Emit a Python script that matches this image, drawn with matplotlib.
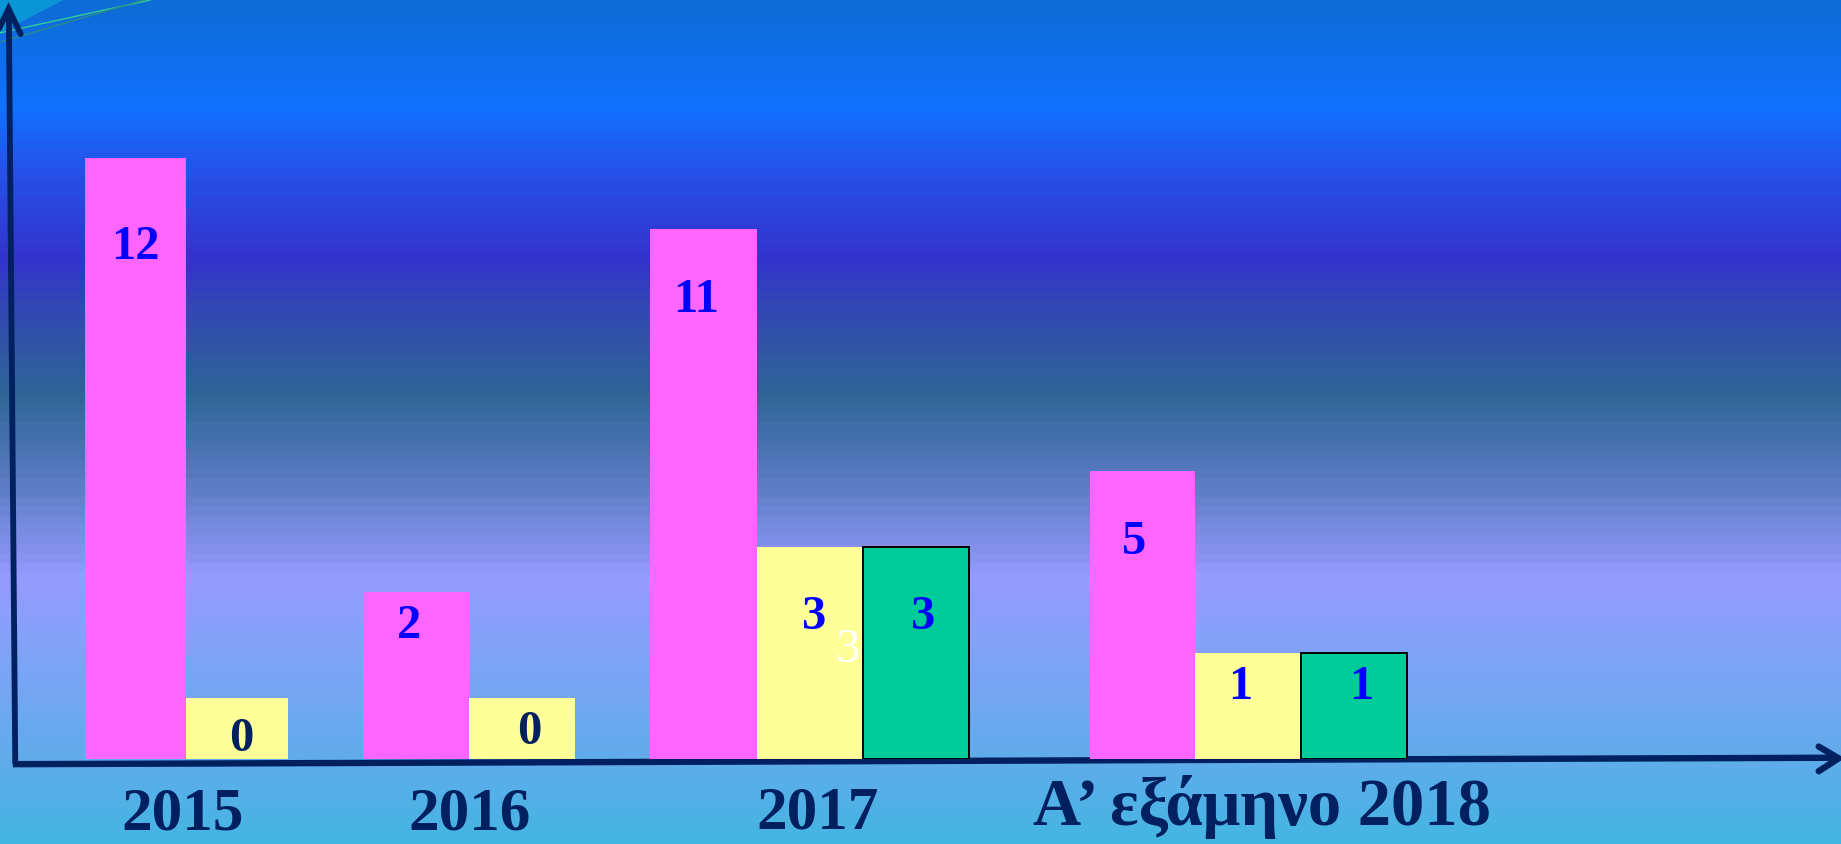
import numpy as np
import matplotlib
matplotlib.use("Agg")
import matplotlib.pyplot as plt
from matplotlib.colors import LinearSegmentedColormap
from matplotlib.patches import Polygon
from matplotlib.lines import Line2D

# ---------------- data ----------------
categories = ['2015', '2016', '2017', 'Α’ εξάμηνο 2018']
pink_values = [12, 2, 11, 5]
yellow_values = [0, 0, 3, 1]
green_values = [np.nan, np.nan, 3, 1]
# bar heights as drawn in the picture (value units)
pink_drawn = [12.0, 3.35, 10.59, 5.76]
yellow_drawn = [1.22, 1.22, 4.24, 2.13]
green_drawn = [np.nan, np.nan, 4.24, 2.13]
extra_label = '3'   # stray white label in the 2017 group

# ---------------- layout (reference units, 1568 x 719) ----------------
W, H = 1568.0, 719.0
BASE = 647.0          # baseline of bars
UNIT = 42.7           # px per value unit
group_left = [72, 309, 554, 928]
slot_w = [86.5, 90.5, 90.5, 90.0]
cat_x = [155.5, 399.5, 696.5, 1075]
cat_base = [707, 707, 706, 703]
cat_fs = [44, 44, 44, 48]
# label visual-centre offsets from bar top-centre (dx, dy)
pink_off = [(-0.3, 72), (-6, 26), (-6, 57), (-7, 57)]
yellow_off = [(4, 31), (6, 25), (4, 56), (-7, 26)]
green_off = [None, None, (6, 56), (6, 26)]

PINK = '#FF66FF'
YELLOW = '#FFFF99'
GREEN = '#00CC99'
NAVY = '#002060'
BLUE = '#0000FF'
SERIF = ['Liberation Serif', 'DejaVu Serif']

fig = plt.figure(figsize=(18.41, 8.44), dpi=100)

# ---------------- background ----------------
bg = fig.add_axes([0, 0, 1, 1])
bg.set_xlim(0, W)
bg.set_ylim(H, 0)
bg.axis('off')
stops = [
    (0.00, (14, 108, 215)),
    (0.12, (17, 112, 255)),
    (0.20, (38, 80, 232)),
    (0.30, (51, 51, 204)),
    (0.38, (50, 78, 172)),
    (0.46, (46, 100, 150)),
    (0.56, (88, 122, 192)),
    (0.68, (150, 155, 255)),
    (0.80, (120, 165, 243)),
    (0.90, (95, 172, 235)),
    (1.00, (66, 182, 226)),
]
cmap = LinearSegmentedColormap.from_list(
    'bg', [(p, tuple(c / 255 for c in col)) for p, col in stops])
grad = np.floor(np.linspace(0, 1, 720) * 90) / 90
bg.imshow(grad[:, None], aspect='auto', cmap=cmap, extent=(0, W, H, 0),
          interpolation='nearest', zorder=0)
bg.add_patch(Polygon([(0, 0), (54, 0), (0, 28)], closed=True,
                     facecolor='#0A96D6', edgecolor='none', zorder=1))
bg.plot([0, 128], [28, 0], color='#33CC99', lw=1.0, zorder=2)
bg.plot([0, 122], [36, 0], color='#2A8A8A', lw=1.0, zorder=2)

# ---------------- bars ----------------
ax = fig.add_axes([0, (H - BASE) / H, 1, BASE / H])
ax.set_xlim(0, W)
ax.set_ylim(0, BASE / UNIT)
ax.axis('off')
ax.patch.set_alpha(0)

S = 1841 / 1568.0
VFS = 35
cap_ref = VFS * 100 / 72 * 0.66 / S


def put_label(x, h, off, text, color, weight='bold'):
    dx, dy = off
    y = h - (dy + cap_ref / 2) / UNIT
    ax.text(x + dx, y, text, ha='center', va='baseline', fontsize=VFS,
            color=color, fontweight=weight, family=SERIF, zorder=5)


for i in range(len(categories)):
    left = group_left[i]
    w = slot_w[i]
    series = [(pink_drawn, pink_values, PINK, pink_off, 'none', 0),
              (yellow_drawn, yellow_values, YELLOW, yellow_off, 'none', 0),
              (green_drawn, green_values, GREEN, green_off, 'black', 1.4)]
    for j, (drawn, vals, col, offs, ec, lw) in enumerate(series):
        h = drawn[i]
        if np.isnan(h):
            continue
        ax.bar(left + j * w, h, width=w, align='edge', color=col,
               edgecolor=ec, linewidth=lw, zorder=3)
        lab_col = NAVY if (col == YELLOW and vals[i] == 0) else BLUE
        put_label(left + j * w + w / 2, h, offs[i], str(int(vals[i])), lab_col)

# stray white "3" in the 2017 group (sits at the right of the yellow bar)
put_label(group_left[2] + 1.5 * slot_w[2], yellow_drawn[2],
          (32, 84), extra_label, 'white', weight='normal')

# ---------------- axes arrows ----------------
bg.add_line(Line2D([13, 7.5], [651, 9], color=NAVY, lw=4.2,
                   solid_capstyle='butt', zorder=6))
bg.add_line(Line2D([-4, 7.3, 17.6], [31, 7.5, 29], color=NAVY, lw=4.2,
                   solid_capstyle='round', solid_joinstyle='miter', zorder=6))
bg.add_line(Line2D([11, 1564], [651, 645.5], color=NAVY, lw=4.6,
                   solid_capstyle='butt', zorder=6))
bg.add_line(Line2D([1549, 1566, 1549], [636, 646, 657], color=NAVY, lw=4.6,
                   solid_capstyle='round', solid_joinstyle='miter', zorder=6))

# ---------------- category labels ----------------
for x, yb, fs, lab in zip(cat_x, cat_base, cat_fs, categories):
    bg.text(x, yb, lab, ha='center', va='baseline', fontsize=fs,
            fontweight='bold', color=NAVY, family=SERIF, zorder=7)

fig.savefig('out.png', dpi=100)
